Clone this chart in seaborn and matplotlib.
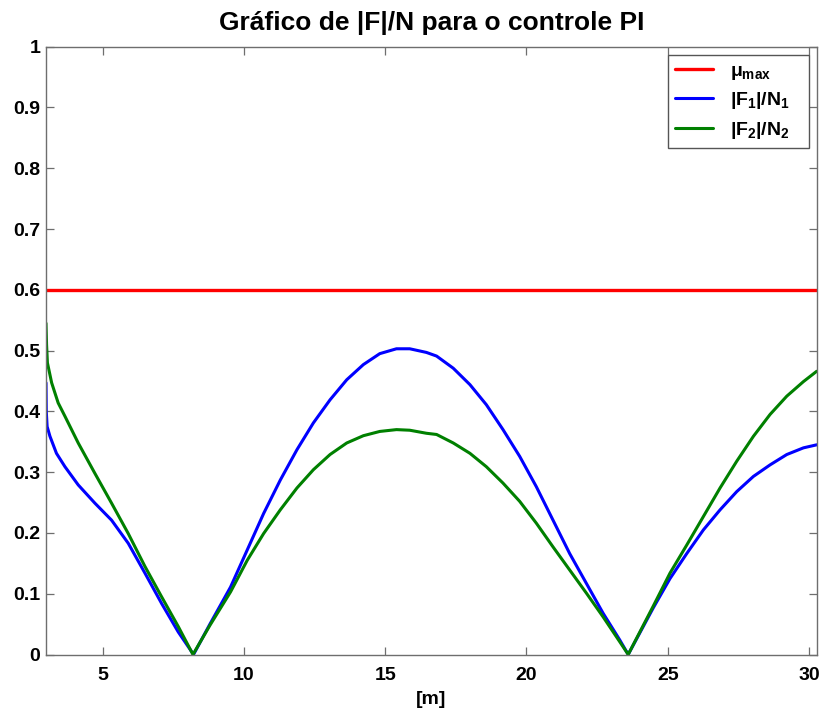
import numpy as np
import pandas as pd
import matplotlib
matplotlib.use("Agg")
import matplotlib.pyplot as plt
import seaborn as sns

# ---- data ----
mu_max = 0.6
x_limits = [3.0, 30.28]

x_f1 = [3.00, 3.01, 3.04, 3.14, 3.37, 3.67, 4.14, 4.73, 5.32, 5.91, 6.50, 7.09, 7.68,
        8.22, 8.80, 9.53, 10.12, 10.70, 11.29, 11.88, 12.46, 13.05, 13.64, 14.23,
        14.81, 15.40, 15.87, 16.46, 16.82, 17.41, 18.00, 18.58, 19.17, 19.76, 20.35,
        20.94, 21.53, 22.12, 22.71, 23.30, 23.60, 23.90, 24.49, 25.08, 25.67, 26.26,
        26.85, 27.44, 28.03, 28.62, 29.21, 29.80, 30.27]
y_f1 = [0.447, 0.400, 0.375, 0.359, 0.331, 0.309, 0.279, 0.249, 0.221, 0.183, 0.134,
        0.084, 0.037, 0.000, 0.050, 0.111, 0.172, 0.232, 0.287, 0.337, 0.381, 0.419,
        0.452, 0.477, 0.495, 0.503, 0.503, 0.497, 0.491, 0.471, 0.444, 0.411, 0.370,
        0.326, 0.276, 0.221, 0.166, 0.117, 0.068, 0.024, 0.000, 0.026, 0.077, 0.125,
        0.166, 0.205, 0.238, 0.268, 0.293, 0.312, 0.329, 0.340, 0.345]

x_f2 = [3.00, 3.02, 3.05, 3.20, 3.43, 3.67, 4.14, 4.73, 5.32, 5.91, 6.50, 7.09, 7.68,
        8.20, 8.80, 9.53, 10.12, 10.70, 11.29, 11.88, 12.46, 13.05, 13.64, 14.23,
        14.81, 15.40, 15.87, 16.46, 16.82, 17.41, 18.00, 18.58, 19.17, 19.76, 20.35,
        20.94, 21.53, 22.12, 22.71, 23.30, 23.60, 23.90, 24.49, 25.08, 25.67, 26.26,
        26.85, 27.44, 28.03, 28.62, 29.21, 29.80, 30.27]
y_f2 = [0.545, 0.510, 0.480, 0.447, 0.414, 0.392, 0.348, 0.298, 0.249, 0.199, 0.145,
        0.095, 0.046, 0.000, 0.048, 0.103, 0.155, 0.199, 0.238, 0.274, 0.304, 0.329,
        0.348, 0.360, 0.367, 0.370, 0.369, 0.364, 0.362, 0.348, 0.331, 0.309, 0.282,
        0.252, 0.216, 0.177, 0.139, 0.101, 0.062, 0.021, 0.000, 0.027, 0.080, 0.134,
        0.180, 0.227, 0.274, 0.318, 0.359, 0.395, 0.425, 0.449, 0.466]

x_ticks = [5, 10, 15, 20, 25, 30]
y_ticks = [0, 0.1, 0.2, 0.3, 0.4, 0.5, 0.6, 0.7, 0.8, 0.9, 1.0]
y_tick_labels = ["0", "0.1", "0.2", "0.3", "0.4", "0.5", "0.6", "0.7", "0.8", "0.9", "1"]

labels = [r"$\mu_{max}$   ", r"$|F_1|/N_1$   ", r"$|F_2|/N_2$   "]
colors = ["#ff0000", "#0000ff", "#008000"]

# ---- styling ----
sns.set_theme(style="white")
plt.rcParams["font.family"] = ["Liberation Sans", "DejaVu Sans"]
plt.rcParams["font.weight"] = "bold"
plt.rcParams["text.color"] = "black"
plt.rcParams["axes.labelcolor"] = "black"
plt.rcParams["mathtext.fontset"] = "custom"
plt.rcParams["mathtext.rm"] = "Liberation Sans:bold"
plt.rcParams["mathtext.it"] = "Liberation Sans:bold"
plt.rcParams["mathtext.bf"] = "Liberation Sans:bold"
plt.rcParams["mathtext.sf"] = "Liberation Sans:bold"

fig = plt.figure(figsize=(8.23, 7.15), dpi=100)
ax = fig.add_axes([46 / 823, 1 - 654.5 / 715, (817 - 46) / 823, (654.5 - 46.7) / 715])

mu_df = pd.DataFrame({"x": x_limits, "y": [mu_max, mu_max]})
f1_df = pd.DataFrame({"x": x_f1, "y": y_f1})
f2_df = pd.DataFrame({"x": x_f2, "y": y_f2})

sns.lineplot(data=mu_df, x="x", y="y", color=colors[0], lw=2.4, label=labels[0],
             ax=ax, estimator=None, sort=False)
sns.lineplot(data=f1_df, x="x", y="y", color=colors[1], lw=2.2, label=labels[1],
             ax=ax, estimator=None, sort=False)
sns.lineplot(data=f2_df, x="x", y="y", color=colors[2], lw=2.2, label=labels[2],
             ax=ax, estimator=None, sort=False)

ax.set_xlim(x_limits)
ax.set_ylim(0, 1)
ax.set_xticks(x_ticks)
ax.set_xticklabels([str(t) for t in x_ticks])
ax.set_yticks(y_ticks)
ax.set_yticklabels(y_tick_labels)

for s in ax.spines.values():
    s.set_visible(True)
    s.set_color("#6e6e6e")
    s.set_linewidth(1.0)
ax.tick_params(direction="in", length=6, width=0.9, color="#6e6e6e",
               top=True, right=True, bottom=True, left=True,
               labelsize=14, labelcolor="black")
ax.tick_params(axis="x", pad=9)
ax.tick_params(axis="y", pad=4)
for lab in ax.get_xticklabels() + ax.get_yticklabels():
    lab.set_fontweight("bold")

ax.set_xlabel("[m]", fontsize=14, fontweight="bold", labelpad=5, color="black")
ax.set_ylabel("")
ax.set_title("Gráfico de |F|/N para o controle PI", fontsize=19,
             fontweight="bold", pad=12, color="black")

leg = ax.legend(loc="upper right",
                bbox_to_anchor=((809 - 46) / (817 - 46), (654.5 - 55) / (654.5 - 46.7)),
                borderaxespad=0, fancybox=False, frameon=True, fontsize=14,
                handlelength=1.95, handletextpad=0.9, labelspacing=0.43,
                borderpad=0.37)
leg.get_frame().set_edgecolor("#555555")
leg.get_frame().set_linewidth(1.0)
leg.get_frame().set_alpha(1)
for t in leg.get_texts():
    t.set_color("black")

fig.savefig("out.png", dpi=100)
